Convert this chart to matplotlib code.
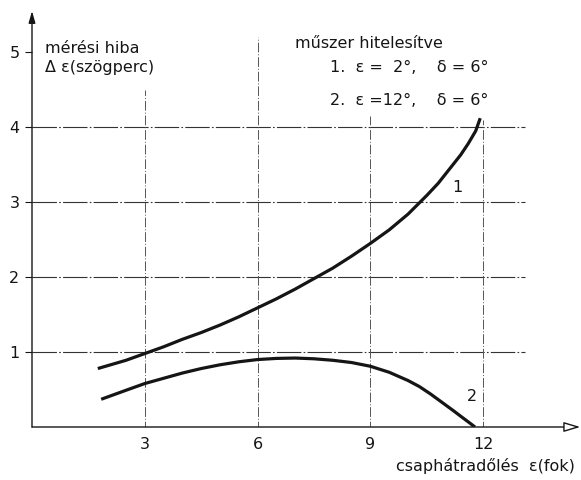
import numpy as np
import matplotlib
matplotlib.use('Agg')
import matplotlib.pyplot as plt

# curve 1: instrument calibrated at eps=2 deg, delta=6 deg
eps1 = [1.75, 2.5, 3.0, 3.5, 4.0, 4.5, 5.0, 5.5, 6.0, 6.5, 7.0, 7.5, 8.0, 8.5,
        9.0, 9.5, 10.0, 10.5, 10.8, 11.1, 11.4, 11.6, 11.8, 11.92]
err1 = [0.78, 0.89, 0.98, 1.07, 1.17, 1.26, 1.36, 1.47, 1.59, 1.71, 1.84, 1.98, 2.12, 2.28,
        2.45, 2.63, 2.84, 3.09, 3.25, 3.44, 3.63, 3.78, 3.95, 4.12]
# curve 2: instrument calibrated at eps=12 deg, delta=6 deg
eps2 = [1.84, 2.5, 3.0, 3.5, 4.0, 4.5, 5.0, 5.5, 6.0, 6.5, 7.0, 7.5, 8.0, 8.5,
        9.0, 9.5, 10.0, 10.3, 10.6, 10.9, 11.2, 11.45, 11.65, 11.78]
err2 = [0.37, 0.49, 0.58, 0.65, 0.72, 0.78, 0.83, 0.87, 0.90, 0.915, 0.92, 0.91, 0.89, 0.86,
        0.81, 0.73, 0.62, 0.54, 0.44, 0.33, 0.22, 0.125, 0.05, 0.0]

xticks = [3, 6, 9, 12]
yticks = [1, 2, 3, 4, 5]
hgrid = [1, 2, 3, 4]
vgrid_top = [4.5, 5.2, 4.15, 4.1]

ink = '#151515'
fs = 11.5

fig = plt.figure(figsize=(5.81, 4.80), dpi=100)
ax = fig.add_axes([32/581, 53/480, 549/581, 416/480])
ax.set_xlim(0, 14.6)
ax.set_ylim(0, 5.55)
for s in ax.spines.values():
    s.set_visible(False)

# grid (dash-dot, drafting style)
ax.hlines(hgrid, 0, 13.1, colors='#333333', lw=0.8, linestyles=[(0, (22, 2, 1.5, 2))])
ax.vlines(xticks, -0.05, vgrid_top, colors='#555555', lw=0.7, linestyles=[(0, (10, 2, 1, 2))])

# axes with arrows
ax.annotate('', xy=(14.58, 0), xytext=(0, 0),
            arrowprops=dict(arrowstyle='-|>,head_length=1.0,head_width=0.3', lw=1.0,
                            color=ink, fc='white', shrinkA=0, shrinkB=0),
            annotation_clip=False)
ax.annotate('', xy=(0, 5.55), xytext=(0, 0),
            arrowprops=dict(arrowstyle='-|>,head_length=0.7,head_width=0.2', lw=1.0,
                            color=ink, shrinkA=0, shrinkB=0),
            annotation_clip=False)

# curves
ax.plot(eps1, err1, color=ink, lw=2.3, solid_capstyle='butt', solid_joinstyle='round')
ax.plot(eps2, err2, color=ink, lw=2.3, solid_capstyle='butt', solid_joinstyle='round')
ax.text(11.3, 3.2, '1', fontsize=fs, color=ink, ha='center', va='center')
ax.text(11.69, 0.41, '2', fontsize=fs, color=ink, ha='center', va='center')

# ticks
ax.set_xticks(xticks)
ax.set_yticks(yticks)
ax.tick_params(axis='x', length=0, pad=7, labelsize=fs, colors=ink)
ax.tick_params(axis='y', length=5, width=0.8, pad=4, labelsize=fs, colors=ink)

# annotations
ax.text(0.35, 5.05, 'mérési hiba', fontsize=fs, color=ink, va='center')
ax.text(0.35, 4.8, 'Δ ε(szögperc)', fontsize=fs, color=ink, va='center')
ax.text(7.0, 5.12, 'műszer hitelesítve', fontsize=fs, color=ink, va='center')
ax.text(7.93, 4.79, '1.  ε =  2°,    δ = 6°', fontsize=fs, color=ink, va='center')
ax.text(7.93, 4.36, '2.  ε =12°,    δ = 6°', fontsize=fs, color=ink, va='center')
ax.text(14.44, -0.52, 'csaphátradőlés  ε(fok)', fontsize=fs, color=ink,
        ha='right', va='center', clip_on=False)

fig.savefig('out.png', dpi=100, facecolor='white')
